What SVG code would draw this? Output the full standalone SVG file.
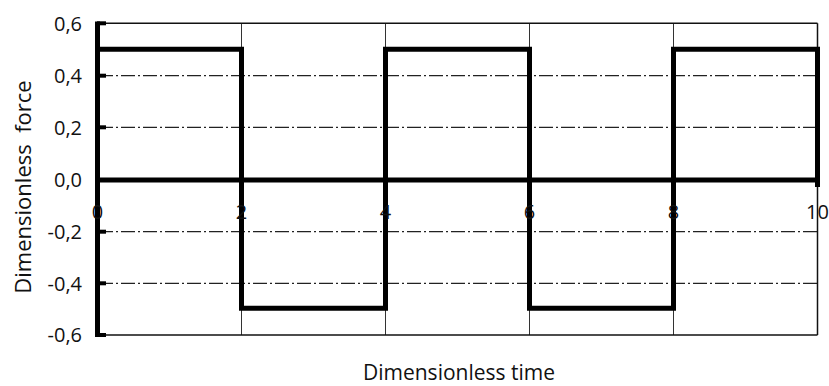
<svg xmlns="http://www.w3.org/2000/svg" width="829" height="386" viewBox="0 0 829 386">
<style>
.lbl{font-family:"Open Sans","Liberation Sans",sans-serif;font-size:20px;fill:#111}
.ttl{font-family:"Open Sans","Liberation Sans",sans-serif;fill:#111}
.grid{stroke:#222;stroke-width:1.2;stroke-dasharray:14 3 2 3;fill:none}
.thin{stroke:#111;stroke-width:1.5;fill:none}
.vgrid{stroke:#333;stroke-width:1;fill:none}
.thick{stroke:#000;stroke-width:5;fill:none;stroke-linejoin:miter}
</style>
<rect width="829" height="386" fill="#fff"/>
<g id="grid">
<line class="grid" x1="99" y1="75.7" x2="817" y2="75.7"/>
<line class="grid" x1="99" y1="127.3" x2="817" y2="127.3"/>
<line class="grid" x1="99" y1="231.7" x2="817" y2="231.7"/>
<line class="grid" x1="99" y1="283.3" x2="817" y2="283.3"/>
<line class="vgrid" x1="241.5" y1="23.3" x2="241.5" y2="335"/>
<line class="vgrid" x1="385.5" y1="23.3" x2="385.5" y2="335"/>
<line class="vgrid" x1="529.5" y1="23.3" x2="529.5" y2="335"/>
<line class="vgrid" x1="673.5" y1="23.3" x2="673.5" y2="335"/>
<line class="thin" x1="97" y1="23.3" x2="817.5" y2="23.3"/>
<line class="thin" x1="97" y1="335" x2="817.5" y2="335"/>
<line class="thin" x1="817.5" y1="23.3" x2="817.5" y2="335"/>
</g>
<g id="axes">
<line class="thick" x1="97.5" y1="21.5" x2="97.5" y2="337"/>
<g stroke="#000" stroke-width="4">
<line x1="97" y1="23.3" x2="106" y2="23.3"/>
<line x1="97" y1="75.7" x2="106" y2="75.7"/>
<line x1="97" y1="127.3" x2="106" y2="127.3"/>
<line x1="97" y1="231.7" x2="106" y2="231.7"/>
<line x1="97" y1="283.3" x2="106" y2="283.3"/>
<line x1="97" y1="335" x2="106" y2="335"/>
</g>
<line class="thick" x1="97.5" y1="180" x2="817.5" y2="180"/>
</g>
<g id="connectors">
<path class="thick" d="M97.5,49.3 H241.5 V308.3 H385.5 V49.3 H529.5 V308.3 H673.5 V49.3 H817.5 V187"/>
</g>
<g id="ylabels" class="lbl" text-anchor="end">
<text x="82" y="31">0,6</text>
<text x="82" y="83">0,4</text>
<text x="82" y="134.5">0,2</text>
<text x="82" y="187">0,0</text>
<text x="82" y="239">-0,2</text>
<text x="82" y="290.5">-0,4</text>
<text x="82" y="342">-0,6</text>
</g>
<g id="xlabels" class="lbl" text-anchor="middle">
<text x="97.5" y="219">0</text>
<text x="241.5" y="219">2</text>
<text x="385.5" y="219">4</text>
<text x="529.5" y="219">6</text>
<text x="673.5" y="219">8</text>
<text x="817.5" y="219">10</text>
</g>
<g id="titles">
<text class="ttl" font-size="21" text-anchor="middle" x="459" y="380">Dimensionless time</text>
<text class="ttl" font-size="22" text-anchor="middle" transform="translate(31,187) rotate(-90)" xml:space="preserve">Dimensionless  force</text>
</g>
</svg>
